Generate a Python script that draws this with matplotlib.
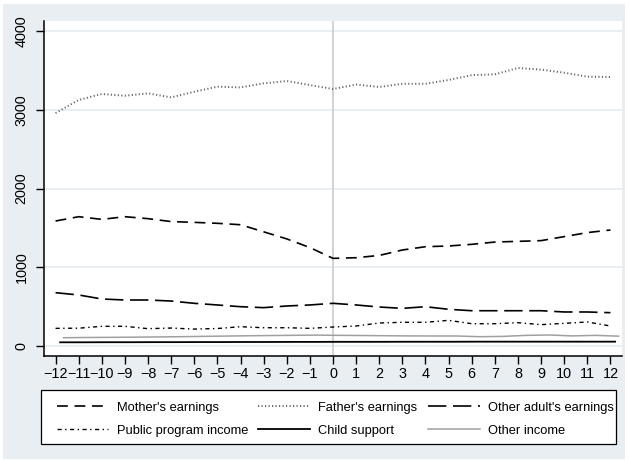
import numpy as np
import matplotlib
matplotlib.use('Agg')
import matplotlib.pyplot as plt
from matplotlib.patches import Rectangle

plt.rcParams['font.family'] = ['Liberation Sans', 'DejaVu Sans']

# Months relative to the event
months = np.arange(-12, 13)

mothers = [1587, 1642, 1608, 1642, 1617, 1580, 1570, 1558, 1540, 1450, 1360, 1250, 1113,
           1121, 1150, 1219, 1261, 1270, 1291, 1320, 1329, 1338, 1389, 1440, 1473]
fathers = [2958, 3124, 3200, 3178, 3208, 3157, 3229, 3293, 3284, 3335, 3365, 3314, 3263,
           3320, 3289, 3330, 3330, 3378, 3440, 3450, 3530, 3510, 3470, 3420, 3416]
other_adult = [677, 648, 597, 584, 584, 571, 542, 521, 499, 487, 508, 521, 542,
               521, 495, 478, 499, 466, 448, 448, 448, 448, 432, 432, 423]
public_prog = [224, 226, 250, 250, 220, 228, 215, 222, 245, 232, 232, 224, 241,
               254, 292, 301, 301, 326, 283, 283, 296, 271, 288, 305, 254]
child_support = [47, 47, 48, 48, 49, 49, 50, 50, 51, 51, 52, 52, 53,
                 53, 53, 54, 54, 54, 55, 55, 55, 55, 55, 55, 55]
other_income = [105, 108, 110, 112, 115, 118, 122, 126, 130, 133, 136, 138, 135,
                133, 130, 128, 127, 127, 118, 122, 135, 140, 128, 135, 125]

# small horizontal shifts of the two bottom series
child_x = months + 0.2
other_x = months + 0.35

W, H = 630, 462
fig = plt.figure(figsize=(6.3, 4.62), dpi=100, facecolor='white')

# graph region background
fig.patches.append(Rectangle((3 / W, 1 - 459 / H), 622 / W, 455 / H,
                             transform=fig.transFigure, facecolor='#e8eef1',
                             edgecolor='none', zorder=-10))

ax = fig.add_axes([44 / W, 1 - 356 / H, 578 / W, 335 / H])
ax.set_facecolor('white')

ax.plot(months, mothers, color='black', lw=1.2, ls=(0, (6.5, 4)), label="Mother's earnings")
ax.plot(months, fathers, color='#666666', lw=1.4, ls=(0, (0.6, 1.2)), label="Father's earnings")
ax.plot(months, other_adult, color='black', lw=1.2, ls=(0, (11, 4)), label="Other adult's earnings")
ax.plot(months, public_prog, color='black', lw=1.0, ls=(0, (3, 2.5, 1, 2.5)), label='Public program income')
ax.plot(child_x, child_support, color='black', lw=1.3, label='Child support')
ax.plot(other_x, other_income, color='#a0a0a0', lw=1.1, label='Other income')

ax.axvline(0, color='#cfcfcf', lw=1.3, zorder=1)

ax.set_xlim(-12.5, 12.5)
ax.set_ylim(-127, 4127)
ax.set_xticks(months)
ax.set_xticklabels([str(m).replace('-', '\u2212') for m in months])
ax.set_yticks([0, 1000, 2000, 3000, 4000])
ax.yaxis.grid(True, color='#e2eaed', lw=1.1)
ax.set_axisbelow(True)

for side in ['top', 'right']:
    ax.spines[side].set_visible(False)
for side in ['left', 'bottom']:
    ax.spines[side].set_linewidth(1.1)

ax.tick_params(axis='x', length=6, width=1, pad=2, labelsize=10.4)
ax.tick_params(axis='y', length=6, width=1, pad=5, labelsize=10.4, labelrotation=90)
for lbl in ax.get_yticklabels():
    lbl.set_va('center')

# legend box drawn separately so its size is fixed
fig.patches.append(Rectangle((41 / W, 1 - 444 / H), 575 / W, 54 / H,
                             transform=fig.transFigure, facecolor='white',
                             edgecolor='black', lw=0.9, zorder=-5))

# legend laid out row by row, so reorder for matplotlib's column filling
h, l = ax.get_legend_handles_labels()
order = [0, 3, 1, 4, 2, 5]
leg = fig.legend([h[i] for i in order], [l[i] for i in order], ncol=3,
                 loc='upper left', bbox_to_anchor=(45 / W, 1 - 390 / H),
                 borderaxespad=0, fontsize=9.3, handlelength=4.0, handletextpad=0.65,
                 columnspacing=0.8, labelspacing=0.85, borderpad=0.9,
                 frameon=False)

fig.savefig('out.png', dpi=100, facecolor='white')
